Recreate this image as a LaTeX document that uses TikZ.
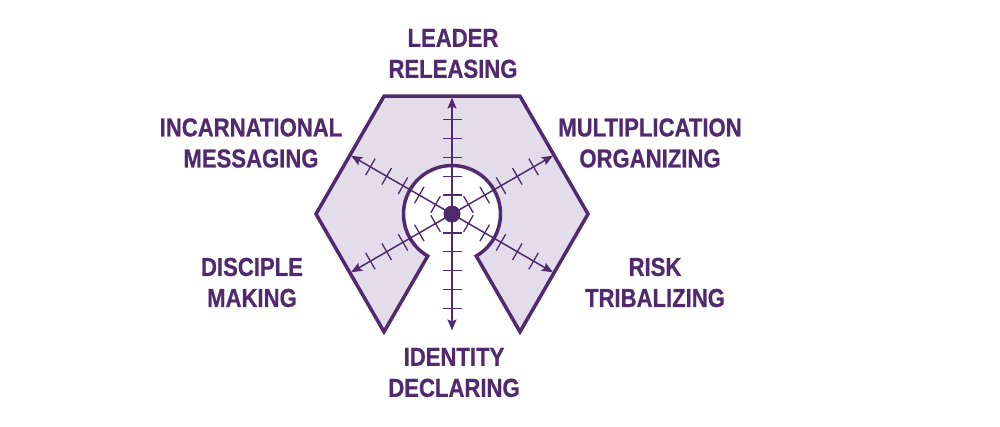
\documentclass[tikz,border=0pt]{standalone}
\usepackage{fontspec}
\usetikzlibrary{arrows.meta}
\newfontfamily\lblfont{Liberation Sans}[FakeStretch=0.85, FakeBold=0.6]
\definecolor{dpurple}{HTML}{51296F}
\definecolor{lpurple}{HTML}{E4DCEA}
\tikzset{
  lbl/.style={text=dpurple, align=center, inner sep=0pt, font=\lblfont\bfseries\fontsize{26}{31}\selectfont},
  shapeline/.style={draw=dpurple, line width=3.5pt, fill=lpurple, line join=miter},
  axisline/.style={draw=dpurple, line width=1.5pt, {Stealth[length=11pt,width=9pt,inset=2pt]}-{Stealth[length=11pt,width=9pt,inset=2pt]}},
  tickline/.style={draw=dpurple, line width=1.3pt},
  hub/.style={circle, fill=dpurple, minimum size=17pt, inner sep=0pt}
}
\begin{document}
\begin{tikzpicture}[x=1pt,y=1pt]
\useasboundingbox (-452,-212) rectangle (548,214);
% main shape: hexagon minus keyhole
\path[shapeline] (240:136) -- (180:136) -- (120:136) -- (60:136) -- (0:136) -- (300:136)
  -- (300:48.5) arc[start angle=-60, end angle=240, radius=48.5] -- cycle;
% axis end points
\foreach \a in {30,90,150,210,270,330}{
  \coordinate (e\a) at (\a:116.5);
}
\draw[axisline] (e90) -- (e270);
\draw[axisline] (e150) -- (e330);
\draw[axisline] (e30) -- (e210);
% ticks
\foreach \a in {30,90,150,210,270,330}{
  \foreach \d in {19,37.8,56.6,75.4,94.2}{
    \draw[tickline, rotate=\a] (\d,-9.5) -- (\d,9.5);
  }
}
\node[hub] (ctr) at (0,0) {};
% labels
\node[lbl] (lead) at (1,160.5) {LEADER\\RELEASING};
\node[lbl] (inc) at (-201,71) {INCARNATIONAL\\MESSAGING};
\node[lbl] (disc) at (-200,-68.5) {DISCIPLE\\MAKING};
\node[lbl] (ident) at (2,-158.5) {IDENTITY\\DECLARING};
\node[lbl] (risk) at (203,-68.5) {RISK\\TRIBALIZING};
\node[lbl] (mult) at (198,71) {MULTIPLICATION\\ORGANIZING};
\end{tikzpicture}
\end{document}
